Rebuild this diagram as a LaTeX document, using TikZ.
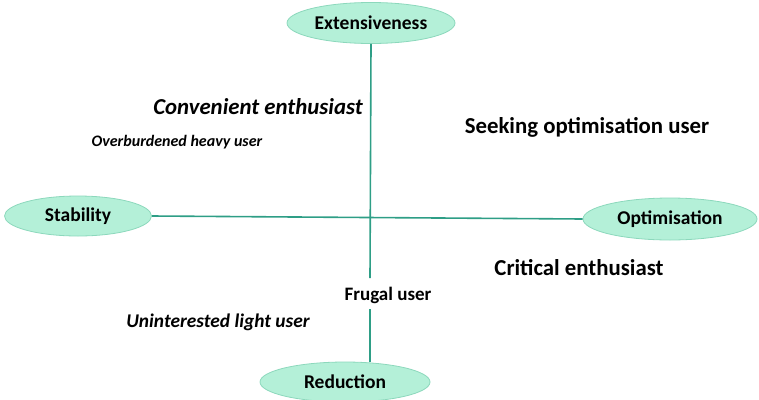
\documentclass[tikz,border=0pt]{standalone}
\usepackage{fontspec}
\setmainfont{Carlito}
\usetikzlibrary{shapes.geometric}
\definecolor{axisteal}{HTML}{2E9E86}
\definecolor{mintfill}{HTML}{B4F0D8}
\definecolor{mintedge}{HTML}{8CD8BC}
\tikzset{
  pole/.style={ellipse, draw=mintedge, line width=0.8pt, fill=mintfill, inner sep=0pt,
    font=\bfseries\fontsize{19.5}{22}\selectfont},
  axis/.style={draw=axisteal, line width=1.6pt},
  bigtag/.style={font=\bfseries\fontsize{22.8}{26}\selectfont, inner sep=0pt},
  bigital/.style={font=\bfseries\itshape\fontsize{22.8}{26}\selectfont, inner sep=0pt},
  smallital/.style={font=\bfseries\itshape\fontsize{16}{18}\selectfont, inner sep=0pt},
  midital/.style={font=\bfseries\itshape\fontsize{19.4}{21}\selectfont, inner sep=0pt},
  midtag/.style={font=\bfseries\fontsize{19}{21}\selectfont, inner sep=0pt},
}
\begin{document}
\begin{tikzpicture}[x=1pt, y=-1pt]
\useasboundingbox (0,0) rectangle (759,399);
% the four poles
\node[pole, minimum width=168pt, minimum height=41pt] (ext) at (371,23) {Extensiveness};
\node[pole, minimum width=147pt, minimum height=40pt] (stab) at (78,216) {Stability};
\node[pole, minimum width=174pt, minimum height=42pt] (opt) at (670,219) {Optimisation};
\node[pole, minimum width=170pt, minimum height=40pt] (red) at (345,382) {Reduction};
% quadrant labels
\node[bigital] (conv) at (258,107) {Convenient enthusiast};
\node[smallital] (over) at (177,142) {Overburdened heavy user};
\node[bigtag] (seek) at (587,127) {Seeking optimisation user};
\node[bigtag] (crit) at (579,268) {Critical enthusiast};
\node[midtag] (frug) at (388,295) {Frugal user};
\node[midital] (unin) at (218,322) {Uninterested light user};
% axes
\coordinate (vtop) at (370,278);
\coordinate (vbot) at (370,309);
\draw[axis] (ext.south) -- (vtop);
\draw[axis] (vbot) -- (red.north -| vbot);
\draw[axis] (stab.east) -- (opt.west);
\end{tikzpicture}
\end{document}
